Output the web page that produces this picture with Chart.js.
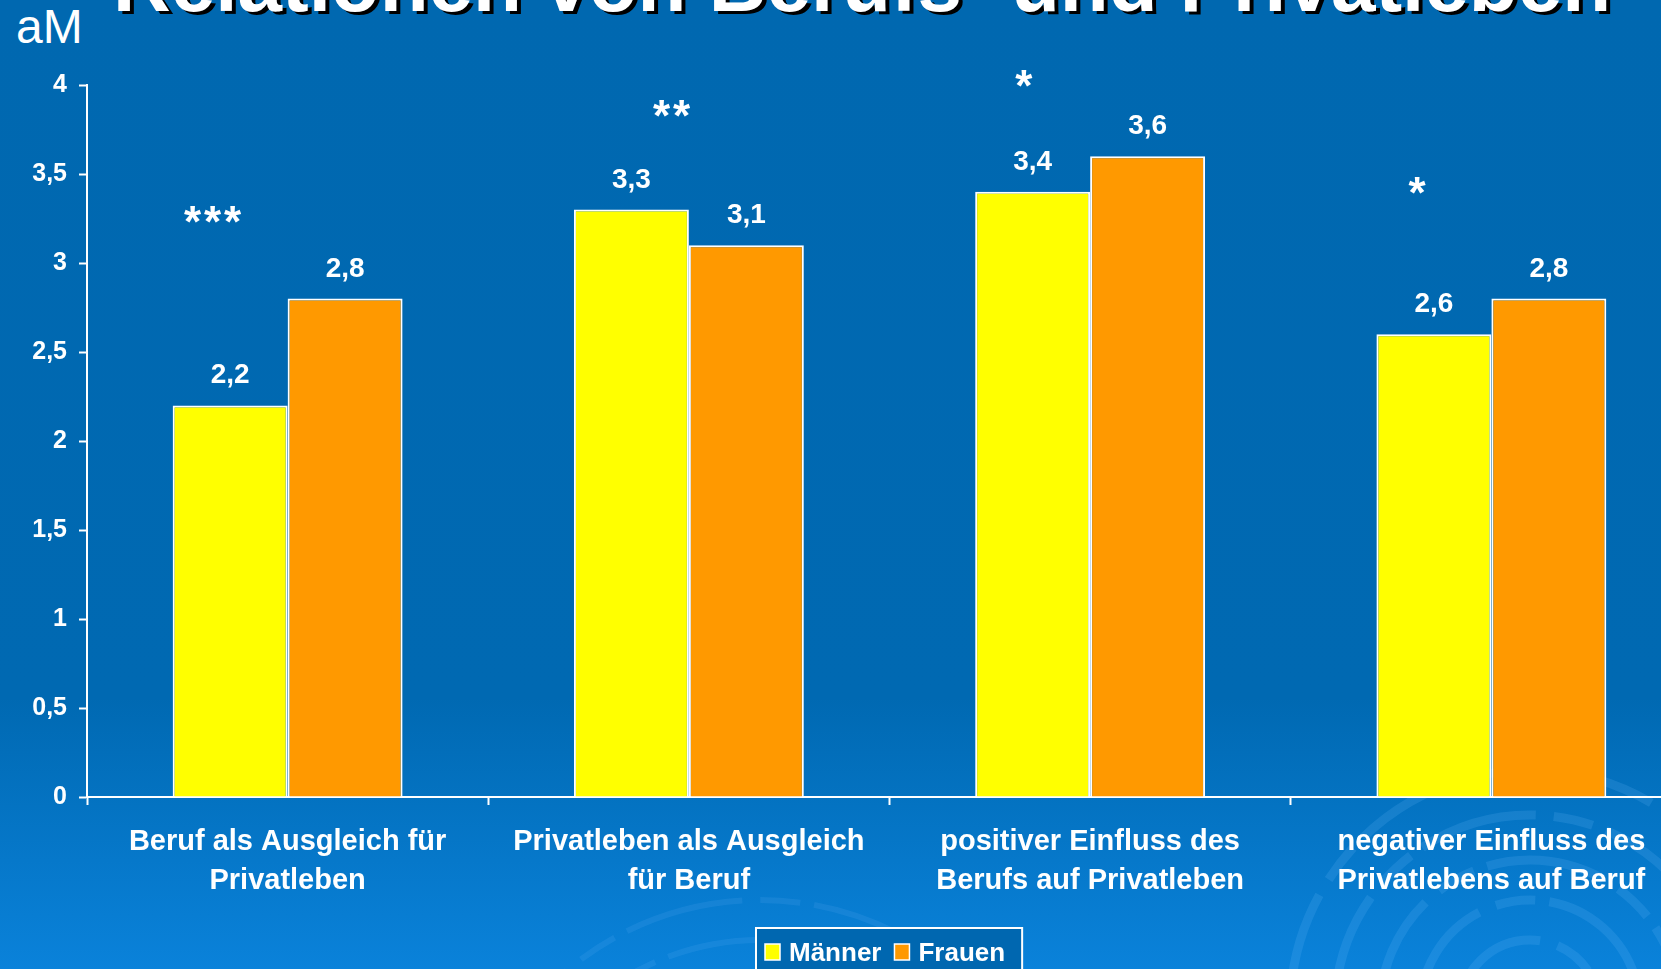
<!DOCTYPE html>
<html lang="de">
<head>
<meta charset="utf-8">
<title>Relationen von Berufs- und Privatleben</title>
<script src="https://cdn.jsdelivr.net/npm/chart.js@4/dist/chart.umd.min.js"></script>
<style>
    html, body {
        margin: 0;
        width: 1661px;
        height: 969px;
        overflow: hidden;
        background: linear-gradient(to bottom, #0068b0 0%, #0069b2 72%, #0a82da 100%);
        font-family: "Liberation Sans", Arial, sans-serif;
        position: relative;
    }
    #titel {
        position: absolute;
        left: 113px;
        top: -56px;
        margin: 0;
        font-size: 80px;
        font-weight: bold;
        color: #fff;
        white-space: nowrap;
        text-shadow: 4px 3px 0 #000;
        line-height: 80px;
    }
    #einheit {
        position: absolute;
        left: 16px;
        top: 3px;
        font-size: 48px;
        color: #fff;
        line-height: 48px;
    }
    #chart-box {
        position: absolute;
        left: 0;
        top: 0;
        width: 1778px;
        height: 990px;
    }
</style>
</head>
<body>
<h1 id="titel">Relationen von Berufs- und Privatleben</h1>
<div id="einheit">aM</div>
<div id="chart-box"><canvas id="chart"></canvas></div>

<script>
// Kategorien (zweizeilige Beschriftung)
const kategorien = [
    ["Beruf als Ausgleich für", "Privatleben"],
    ["Privatleben als Ausgleich", "für Beruf"],
    ["positiver Einfluss des", "Berufs auf Privatleben"],
    ["negativer Einfluss des", "Privatlebens auf Beruf"]
];

// arithmetische Mittel je Gruppe
const maenner = [2.2, 3.3, 3.4, 2.6];
const frauen = [2.8, 3.1, 3.6, 2.8];

// Signifikanzsterne je Kategorie
const signifikanz = ["***", "**", "*", "*"];

const schrift = '"Liberation Sans", Arial, sans-serif';

function komma(wert) {
    return wert.toFixed(1).replace(".", ",");
}

// Hintergrundkreise unten rechts / unten mitte
const hintergrund = {
    id: "hintergrund",
    beforeDraw(chart) {
        const ctx = chart.ctx;
        ctx.save();
        ctx.strokeStyle = "rgba(120, 190, 255, 0.16)";
        ctx.lineWidth = 9;
        ctx.setLineDash([120, 18, 40, 14]);
        [70, 110, 150, 195, 240].forEach((r) => {
            ctx.beginPath();
            ctx.arc(1530, 1010, r, Math.PI, 2 * Math.PI);
            ctx.stroke();
        });
        ctx.lineWidth = 6;
        ctx.strokeStyle = "rgba(120, 190, 255, 0.12)";
        [260, 300].forEach((r) => {
            ctx.beginPath();
            ctx.arc(760, 1200, r, 1.15 * Math.PI, 1.75 * Math.PI);
            ctx.stroke();
        });
        ctx.restore();
    }
};

// Werte über den Balken
const werteLabels = {
    id: "werteLabels",
    afterDatasetsDraw(chart) {
        const ctx = chart.ctx;
        ctx.save();
        ctx.fillStyle = "#fff";
        ctx.font = "bold 28px " + schrift;
        ctx.textAlign = "center";
        ctx.textBaseline = "alphabetic";
        chart.data.datasets.forEach((ds, i) => {
            chart.getDatasetMeta(i).data.forEach((bar, j) => {
                ctx.fillText(komma(ds.data[j]), bar.x, bar.y - 22);
            });
        });
        ctx.restore();
    }
};

// Sterne für Signifikanzniveau, einzeln mit festem Abstand
const sterne = {
    id: "sterne",
    afterDatasetsDraw(chart, args, opts) {
        const ctx = chart.ctx;
        const x = chart.scales.x;
        const y = chart.scales.y;
        const breite = x.getPixelForValue(1) - x.getPixelForValue(0);
        ctx.save();
        ctx.fillStyle = "#fff";
        ctx.font = "bold 44px " + schrift;
        ctx.textAlign = "center";
        ctx.textBaseline = "alphabetic";
        signifikanz.forEach((s, i) => {
            const pos = opts.lage[i];
            const px = x.getPixelForValue(i) + pos.dx * breite;
            const py = y.getPixelForValue(pos.wert) + 26;
            const n = s.length;
            for (let k = 0; k < n; k++) {
                ctx.fillText("*", px + (k - (n - 1) / 2) * 20, py);
            }
        });
        ctx.restore();
    }
};

// Legende mit weißem Rahmen
const legende = {
    id: "legende",
    afterDraw(chart) {
        const ctx = chart.ctx;
        ctx.save();
        ctx.font = "bold 26px " + schrift;
        const items = chart.data.datasets.map((ds) => ({
            text: ds.label,
            farbe: ds.backgroundColor,
            breite: ctx.measureText(ds.label).width
        }));
        const box = 15, abstand = 9, zwischen = 13, links = 9, rechts = 17;
        let gesamt = links + rechts;
        items.forEach((it, i) => {
            gesamt += box + abstand + it.breite + (i > 0 ? zwischen : 0);
        });
        const x0 = Math.round(chart.width / 2 - gesamt / 2);
        const y0 = chart.chartArea.bottom + 131;
        const h = 52;
        ctx.fillStyle = "#0067b0";
        ctx.fillRect(x0, y0, gesamt, h);
        ctx.strokeStyle = "#fff";
        ctx.lineWidth = 2;
        ctx.strokeRect(x0, y0, gesamt, h);
        let cx = x0 + links;
        const mitte = y0 + 24;
        items.forEach((it, i) => {
            if (i > 0) cx += zwischen;
            ctx.fillStyle = it.farbe;
            ctx.fillRect(cx, mitte - 8, box, box + 1);
            ctx.strokeStyle = "#fff";
            ctx.lineWidth = 1.5;
            ctx.strokeRect(cx, mitte - 8, box, box + 1);
            cx += box + abstand;
            ctx.fillStyle = "#fff";
            ctx.textAlign = "left";
            ctx.textBaseline = "middle";
            ctx.fillText(it.text, cx, mitte + 2);
            cx += it.breite;
        });
        ctx.restore();
    }
};

const ctx = document.getElementById("chart");

new Chart(ctx, {
    type: "bar",
    data: {
        labels: kategorien,
        datasets: [
            {
                label: "Männer",
                data: maenner,
                backgroundColor: "#ffff00",
                borderColor: "#ffffff",
                borderWidth: 2,
                borderSkipped: "bottom"
            },
            {
                label: "Frauen",
                data: frauen,
                backgroundColor: "#ff9900",
                borderColor: "#ffffff",
                borderWidth: 2,
                borderSkipped: "bottom"
            }
        ]
    },
    options: {
        responsive: true,
        maintainAspectRatio: false,
        animation: false,
        layout: {
            padding: { top: 85, left: 0, right: 86, bottom: 83 }
        },
        datasets: {
            bar: {
                categoryPercentage: 0.573,
                barPercentage: 1
            }
        },
        plugins: {
            legend: { display: false },
            tooltip: { enabled: false },
            sterne: {
                lage: [
                    { dx: -0.187, wert: 3.29 },
                    { dx: -0.043, wert: 3.885 },
                    { dx: -0.165, wert: 4.055 },
                    { dx: -0.185, wert: 3.455 }
                ]
            }
        },
        scales: {
            x: {
                grid: {
                    offset: true,
                    drawOnChartArea: false,
                    drawTicks: true,
                    tickLength: 8,
                    tickColor: "#fff",
                    tickWidth: 2
                },
                border: { color: "#fff", width: 2 },
                ticks: {
                    color: "#fff",
                    font: { family: schrift, size: 29, weight: "bold", lineHeight: 1.35 },
                    padding: 17,
                    maxRotation: 0,
                    autoSkip: false
                },
                afterFit(scale) {
                    scale.height = 110;
                }
            },
            y: {
                min: 0,
                max: 4,
                grid: {
                    drawOnChartArea: false,
                    drawTicks: true,
                    tickLength: 8,
                    tickColor: "#fff",
                    tickWidth: 2
                },
                border: { color: "#fff", width: 2 },
                ticks: {
                    stepSize: 0.5,
                    color: "#fff",
                    font: { family: schrift, size: 25, weight: "bold" },
                    padding: 12,
                    callback: (v) => String(v).replace(".", ",")
                },
                afterFit(scale) {
                    scale.width = 87;
                }
            }
        }
    },
    plugins: [hintergrund, werteLabels, sterne, legende]
});
</script>
</body>
</html>
